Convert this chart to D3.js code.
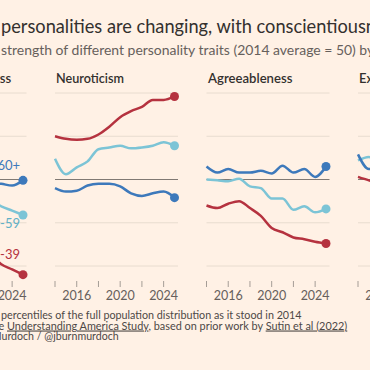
<!DOCTYPE html>
<html>
<head>
<meta charset="utf-8">
<script src="https://cdn.jsdelivr.net/npm/d3@7"></script>
<style>
  html, body { margin: 0; padding: 0; background: #fff1e5; }
  svg { display: block; font-family: Lato, "Open Sans", sans-serif; }
</style>
</head>
<body>
<svg id="chart" width="370" height="370"></svg>
<script>
var years = [2014, 2015, 2016, 2017, 2018, 2019, 2020, 2021, 2022, 2023, 2024, 2025];
var tickYears = [2014, 2016, 2018, 2020, 2022, 2024];
var labelYears = [2016, 2020, 2024];
var gridValues = [40, 45, 50, 55, 60];
var ageGroups = ["18-39", "40-59", "60+"];
var traits = ["Conscientiousness", "Neuroticism", "Agreeableness", "Extraversion"];

// percentile scores, 2014 average = 50
var conscYoung = [47.5, 47.2, 46.8, 46.0, 45.5, 44.6, 43.5, 42.5, 41.4, 40.2, 39.6, 39.0];
var conscMid   = [50.5, 50.2, 50.4, 49.9, 49.6, 49.0, 48.5, 48.0, 47.5, 46.9, 46.4, 45.9];
var conscOld   = [51.5, 51.0, 51.2, 50.8, 50.6, 50.3, 50.0, 49.8, 49.6, 49.5, 49.3, 49.9];

var neuroYoung = [55.0, 54.7, 54.6, 54.7, 55.2, 56.1, 57.2, 57.9, 58.4, 59.2, 59.2, 59.6];
var neuroMid   = [52.4, 50.6, 51.4, 52.1, 53.5, 53.7, 53.9, 53.6, 53.7, 53.9, 54.3, 53.9];
var neuroOld   = [49.0, 48.6, 48.7, 49.3, 49.5, 49.5, 49.2, 48.4, 48.1, 48.4, 48.6, 47.9];

var agreeYoung = [47.0, 46.7, 47.2, 47.5, 46.7, 45.8, 44.4, 43.9, 43.3, 43.1, 42.8, 42.6];
var agreeMid   = [50.0, 49.9, 49.8, 50.1, 49.2, 49.0, 47.8, 47.8, 46.5, 46.9, 46.2, 46.6];
var agreeOld   = [51.5, 50.8, 51.2, 50.8, 50.8, 51.0, 50.7, 51.6, 50.8, 51.2, 50.3, 51.5];

var extraYoung = [50.3, 49.9, 49.6, 49.2, 48.7, 48.1, 47.3, 46.8, 46.2, 45.9, 45.5, 45.2];
var extraMid   = [52.2, 52.6, 51.8, 51.4, 51.0, 50.4, 50.1, 49.6, 49.2, 48.9, 48.7, 48.4];
var extraOld   = [52.9, 51.2, 51.6, 51.1, 50.9, 50.6, 50.8, 50.2, 50.4, 50.1, 50.3, 50.0];

var panelData = [
  [conscYoung, conscMid, conscOld],
  [neuroYoung, neuroMid, neuroOld],
  [agreeYoung, agreeMid, agreeOld],
  [extraYoung, extraMid, extraOld]
];

var colors = ["#b5323f", "#7cc4d6", "#3d79bb"];
var labelColors = ["#b5323f", "#5fb0c6", "#3d79bb"];
var panelLeft = [-96.5, 55, 206.5, 358];

var svg = d3.select("#chart");
svg.append("rect").attr("width", 370).attr("height", 370).attr("fill", "#fff1e5");

// scale a text so that the given piece of it spans x0..x1
function fit(sel, piece, x0, x1){
  var node = sel.node();
  var start = node.textContent.indexOf(piece);
  var fs = +sel.attr("font-size");
  var w = node.getSubStringLength(start, piece.length);
  fs = fs * (x1 - x0) / w;
  sel.attr("font-size", fs);
  var off = start > 0 ? node.getSubStringLength(0, start) : 0;
  sel.attr("x", x0 - off);
}

var title = svg.append("text")
  .attr("x", 1).attr("y", 33)
  .attr("font-size", 16.5)
  .attr("fill", "#33302e")
  .text("personalities are changing, with conscientiousness falling");
fit(title, "personalities are changing, with conscientious", 1, 366);

var sub = svg.append("text")
  .attr("x", 1).attr("y", 55)
  .attr("font-size", 12.5)
  .attr("fill", "#66605c")
  .text("strength of different personality traits (2014 average = 50) by age group");
fit(sub, "strength of different personality traits (2014 average = 50)", 1, 356);

var x = d3.scaleLinear().domain([2014, 2025]).range([0, 119.5]);
var y = d3.scaleLinear().domain([40, 60]).range([266, 93]);

var line = d3.line()
  .x(function(d){ return x(d.year); })
  .y(function(d){ return y(d.value); })
  .curve(d3.curveMonotoneX);

traits.forEach(function(trait, i){
  var g = svg.append("g").attr("transform", "translate(" + panelLeft[i] + ",0)");

  var t = g.append("text")
    .attr("x", 1).attr("y", 83)
    .attr("font-size", 13)
    .attr("font-weight", 600)
    .attr("fill", "#33302e")
    .text(trait);
  if (trait === "Agreeableness") fit(t, trait, 1.5, 86);
  if (trait === "Neuroticism") fit(t, trait, 1, 69);

  g.selectAll(".grid")
    .data(gridValues)
    .enter()
    .append("line")
    .attr("x1", 0).attr("x2", 123)
    .attr("y1", function(d){ return y(d); })
    .attr("y2", function(d){ return y(d); })
    .attr("stroke", function(d){ return d === 50 ? "#807973" : "#e8dccf"; })
    .attr("stroke-width", function(d){ return d === 50 ? 1.2 : 1; });

  g.selectAll(".tick")
    .data(tickYears)
    .enter()
    .append("line")
    .attr("x1", function(d){ return x(d); })
    .attr("x2", function(d){ return x(d); })
    .attr("y1", 281).attr("y2", 287)
    .attr("stroke", "#a59d96");

  g.selectAll(".ticklabel")
    .data(labelYears)
    .enter()
    .append("text")
    .attr("x", function(d){ return x(d); })
    .attr("y", 300)
    .attr("text-anchor", "middle")
    .attr("font-size", 12.5)
    .attr("fill", "#66605c")
    .text(function(d){ return d; });

  panelData[i].forEach(function(vals, k){
    var pts = years.map(function(yr, j){ return {year: yr, value: vals[j]}; });
    g.append("path")
      .datum(pts)
      .attr("fill", "none")
      .attr("stroke", colors[k])
      .attr("stroke-width", 2.5)
      .attr("stroke-linejoin", "round")
      .attr("d", line);
    g.append("circle")
      .attr("cx", x(pts[pts.length - 1].year))
      .attr("cy", y(pts[pts.length - 1].value))
      .attr("r", 4.5)
      .attr("fill", colors[k]);
  });

  if (i === 0) {
    var offs = [-16, 13, -10];
    ageGroups.forEach(function(name, k){
      var last = panelData[i][k][years.length - 1];
      g.append("text")
        .attr("x", x(2025) - 3)
        .attr("y", y(last) + offs[k])
        .attr("text-anchor", "end")
        .attr("font-size", 13)
        .attr("fill", labelColors[k])
        .text(name);
    });
  }
});

var foot = svg.append("g").attr("fill", "#4d4845");
var note = foot.append("text").attr("y", 319).attr("font-size", 9.5)
  .text("Note: scores are expressed as percentiles of the full population distribution as it stood in 2014");
fit(note, "percentiles of the full population distribution as it stood in 2014", 1, 302);

var src = foot.append("text").attr("y", 329.5).attr("font-size", 9.5);
src.append("tspan").text("Source: FT analysis of the ");
src.append("tspan").style("text-decoration", "underline").text("Understanding America Study");
src.append("tspan").text(", based on prior work by ");
src.append("tspan").style("text-decoration", "underline").text("Sutin et al (2022)");
fit(src, "Understanding America Study, based on prior work by Sutin et al (2022)", 7, 348);

var credit = foot.append("text").attr("y", 339.5).attr("font-size", 9.5)
  .text("Graphic: John Burn-Murdoch / @jburnmurdoch");
fit(credit, "urdoch / @jburnmurdoch", 1.5, 119);
</script>
</body>
</html>
